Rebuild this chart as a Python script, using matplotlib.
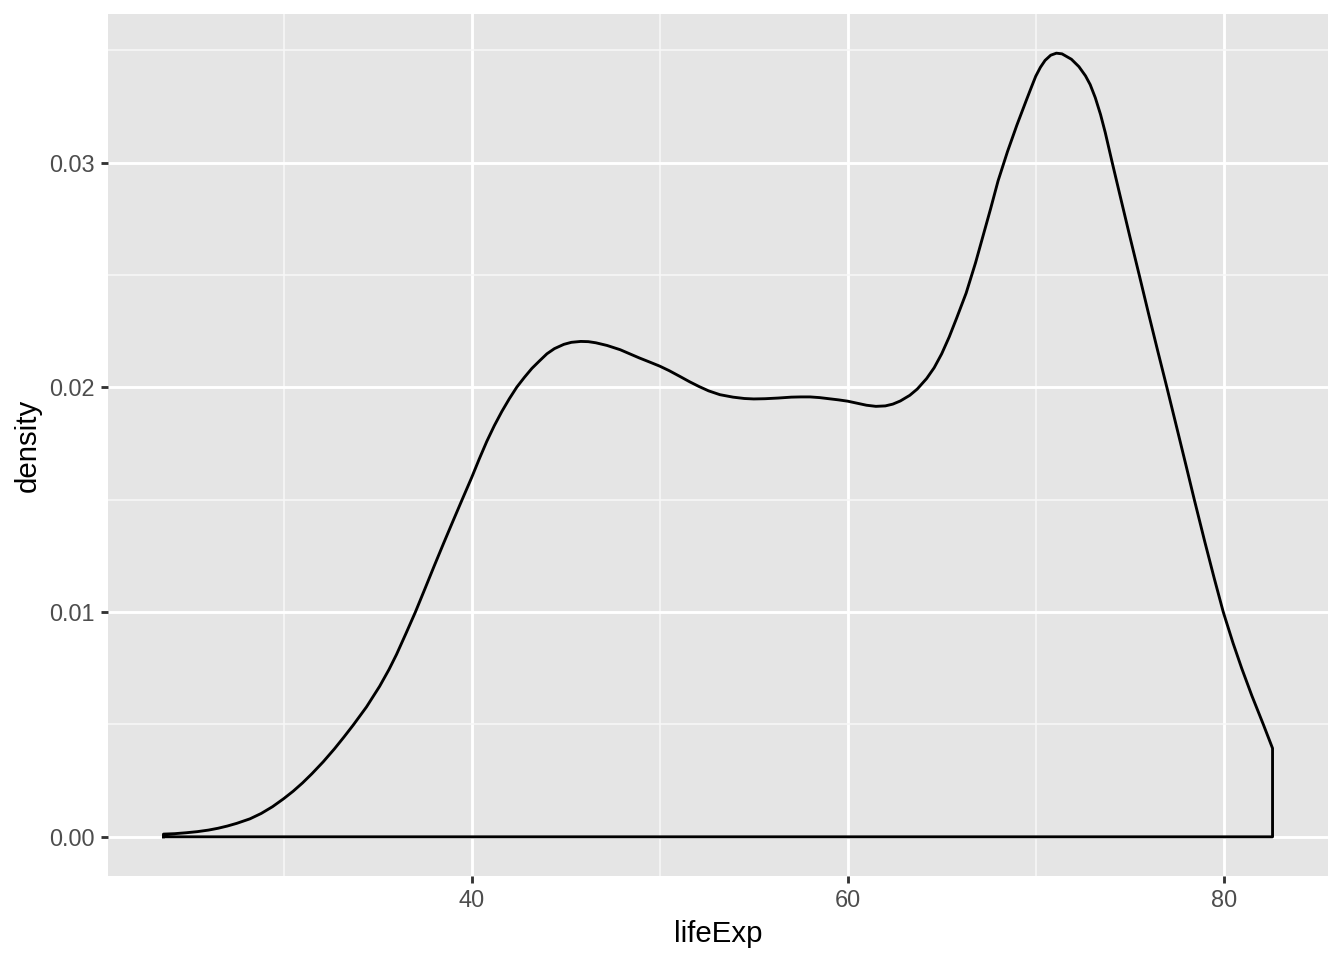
import matplotlib
matplotlib.use("Agg")
import matplotlib.pyplot as plt
from matplotlib.ticker import FixedLocator

plt.rcParams['font.family'] = ['Liberation Sans', 'DejaVu Sans']

# Density estimate of lifeExp
life_exp = [23.6, 24.2, 24.8, 25.4, 26.0, 26.5, 27.0, 27.5, 28.2, 28.8, 29.4, 30.0, 30.5,
            31.0, 31.5, 32.1, 32.7, 33.2, 33.7, 34.4, 35.1, 35.6, 36.0, 36.5, 37.0, 37.5,
            38.0, 38.5, 39.0, 39.5, 40.0, 40.4, 40.8, 41.2, 41.6, 42.0, 42.4, 42.8, 43.2,
            43.6, 44.0, 44.4, 44.9, 45.3, 45.8, 46.2, 46.6, 47.2, 47.9, 48.4, 48.9, 49.5,
            50.0, 50.5, 51.1, 51.6, 52.1, 52.6, 53.2, 53.9, 54.5, 55.0, 55.6, 56.3, 57.0,
            57.5, 58.0, 58.5, 59.0, 59.5, 60.0, 60.5, 61.0, 61.5, 62.0, 62.4, 62.8, 63.3,
            63.7, 64.2, 64.6, 65.0, 65.4, 65.8, 66.3, 66.8, 67.2, 67.6, 68.0, 68.5, 69.0,
            69.5, 69.75, 70.0, 70.25, 70.5, 70.8, 71.1, 71.4, 71.9, 72.3, 72.65, 72.9, 73.17,
            73.45, 73.7, 74.06, 74.5, 75.0, 75.51, 76.0, 76.5, 76.98, 77.5, 78.0, 78.44,
            79.0, 79.5, 79.98, 80.5, 80.96, 81.5, 82.11, 82.6]
density = [0.00012, 0.00014, 0.00018, 0.00023, 0.00030, 0.00038, 0.00048, 0.00060, 0.00080,
           0.00104, 0.00134, 0.00170, 0.00203, 0.00240, 0.00281, 0.00334, 0.00392, 0.00444,
           0.00498, 0.00578, 0.00670, 0.00745, 0.00812, 0.00905, 0.01000, 0.01102, 0.01205,
           0.01306, 0.01405, 0.01503, 0.01600, 0.01682, 0.01760, 0.01830, 0.01893, 0.01950,
           0.02002, 0.02045, 0.02085, 0.02118, 0.02150, 0.02173, 0.02192, 0.02201, 0.02205,
           0.02204, 0.02199, 0.02187, 0.02168, 0.02150, 0.02132, 0.02112, 0.02095, 0.02075,
           0.02048, 0.02025, 0.02004, 0.01985, 0.01968, 0.01957, 0.01951, 0.01949, 0.01950,
           0.01953, 0.01957, 0.01958, 0.01958, 0.01955, 0.01950, 0.01945, 0.01939, 0.01930,
           0.01921, 0.01916, 0.01918, 0.01926, 0.01940, 0.01965, 0.01993, 0.02040, 0.02088,
           0.02150, 0.02225, 0.02310, 0.02420, 0.02555, 0.02675, 0.02795, 0.02920, 0.03050,
           0.03168, 0.03278, 0.03332, 0.03385, 0.03425, 0.03456, 0.03479, 0.03488, 0.03485,
           0.03461, 0.03428, 0.03387, 0.03348, 0.03290, 0.03215, 0.03135, 0.03005, 0.02850,
           0.02675, 0.02500, 0.02330, 0.02160, 0.02000, 0.01823, 0.01652, 0.01500, 0.01312,
           0.01150, 0.01000, 0.00862, 0.00750, 0.00628, 0.00500, 0.00394]

x_major = [40, 60, 80]
x_minor = [30, 50, 70]
y_major = [0.00, 0.01, 0.02, 0.03]
y_minor = [0.005, 0.015, 0.025, 0.035]
y_labels = ["0.00", "0.01", "0.02", "0.03"]

fig = plt.figure(figsize=(7, 5), dpi=192)
ax = fig.add_axes([108/1344, 1 - 876/960, (1328-108)/1344, (876-14)/960])
ax.set_facecolor('#E5E5E5')
for s in ax.spines.values():
    s.set_visible(False)

# closed outline like geom_density
xs = [life_exp[0]] + life_exp + [life_exp[-1], life_exp[0]]
ys = [0.0] + density + [0.0, 0.0]
ax.plot(xs, ys, color='black', lw=1.07, solid_joinstyle='round', zorder=3)

xmin, xmax = min(life_exp), max(life_exp)
dx = (xmax - xmin) * 0.05
ymax = max(density)
dy = ymax * 0.05
ax.set_xlim(xmin - dx, xmax + dx)
ax.set_ylim(-dy, ymax + dy)

ax.xaxis.set_major_locator(FixedLocator(x_major))
ax.xaxis.set_minor_locator(FixedLocator(x_minor))
ax.yaxis.set_major_locator(FixedLocator(y_major))
ax.yaxis.set_minor_locator(FixedLocator(y_minor))
ax.set_yticklabels(y_labels)
ax.grid(which='major', color='white', lw=1.07)
ax.grid(which='minor', color='#F7F7F7', lw=0.6)
ax.set_axisbelow(True)

ax.tick_params(which='major', length=2.75, width=1.07, color='#333333',
               labelsize=8.8, labelcolor='#4D4D4D', pad=2.2)
ax.tick_params(which='minor', length=0)

ax.set_xlabel('lifeExp', fontsize=11, color='black', labelpad=2.75)
ax.set_ylabel('density', fontsize=11, color='black', labelpad=2.75)

fig.savefig('out.png', dpi=192, facecolor='white')
